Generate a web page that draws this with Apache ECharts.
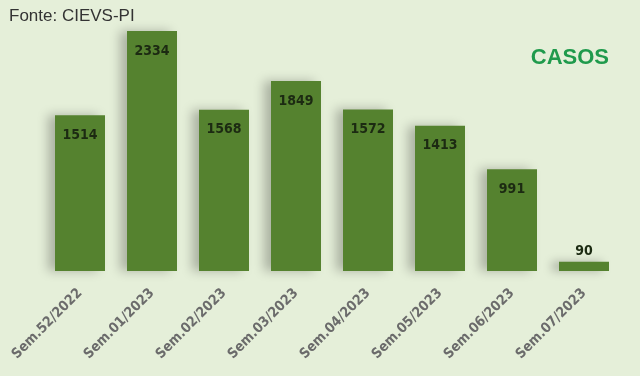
<!DOCTYPE html>
<html>
<head>
<meta charset="utf-8">
<script src="https://cdn.jsdelivr.net/npm/echarts@6/dist/echarts.min.js"></script>
<style>
html, body { margin: 0; padding: 0; background: #e5efd9; }
#chart { width: 640px; height: 376px; }
</style>
</head>
<body>
<div id="chart"></div>
<script>
// semanas epidemiologicas
var weeks = ['Sem.52/2022', 'Sem.01/2023', 'Sem.02/2023', 'Sem.03/2023',
    'Sem.04/2023', 'Sem.05/2023', 'Sem.06/2023', 'Sem.07/2023'];
var cases = [1514, 2334, 1568, 1849, 1572, 1413, 991, 90];

var chart = echarts.init(document.getElementById('chart'));

var barData = cases.map(function (v) {
    if (v < 200) {
        return { value: v, label: { position: 'top', distance: 3 } };
    }
    return v;
});

chart.setOption({
    backgroundColor: '#e5efd9',
    animation: false,
    title: [{
        text: 'Fonte: CIEVS-PI',
        left: 4,
        top: 3,
        textStyle: { fontFamily: 'Liberation Sans', fontSize: 17, fontWeight: 'normal', color: '#333' }
    }, {
        text: 'CASOS',
        right: 26,
        top: 42,
        textStyle: { fontFamily: 'Liberation Sans', fontSize: 22, fontWeight: 'bold', color: '#1f9a4c' }
    }],
    grid: { left: 44, right: 20, top: 14, bottom: 105 },
    xAxis: {
        type: 'category',
        data: weeks,
        axisLine: { show: false },
        axisTick: { show: false },
        axisLabel: {
            rotate: 45,
            margin: 20,
            interval: 0,
            fontFamily: 'DejaVu Sans Condensed',
            fontWeight: 'bold',
            fontSize: 14,
            color: '#6b6b6b'
        }
    },
    yAxis: {
        type: 'value',
        min: 0,
        max: 2500,
        show: false,
        splitLine: { show: false }
    },
    series: [{
        type: 'bar',
        data: barData,
        barWidth: 50,
        itemStyle: {
            color: '#55822f',
            shadowColor: 'rgba(0,0,0,0.25)',
            shadowBlur: 10,
            shadowOffsetX: -7,
            shadowOffsetY: 0
        },
        label: {
            show: true,
            position: 'insideTop',
            distance: 13,
            fontFamily: 'DejaVu Sans Condensed',
            fontWeight: 'bold',
            fontSize: 14,
            color: '#1c2a12'
        }
    }]
});
</script>
</body>
</html>
